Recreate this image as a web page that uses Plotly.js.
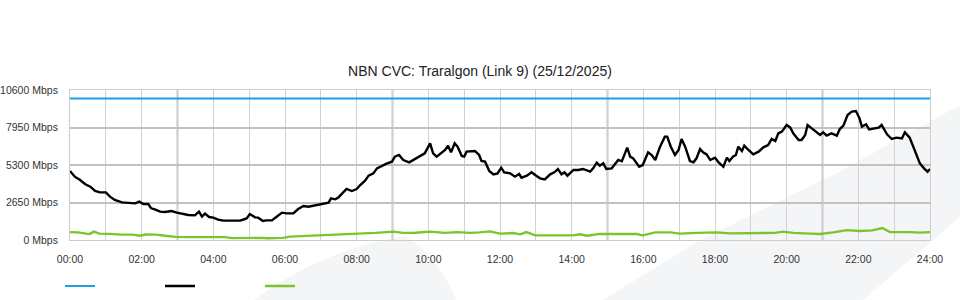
<!DOCTYPE html>
<html>
<head>
<meta charset="utf-8">
<script src="https://cdn.plot.ly/plotly-3.0.1.min.js"></script>
<style>html,body{margin:0;padding:0;background:#fff;}#chart{width:960px;height:300px;}</style>
</head>
<body>
<div id="chart"></div>
<script>
// ---- data (minutes since midnight, Mbps) ----
var chartTitle = "NBN CVC: Traralgon (Link 9) (25/12/2025)";
var hourLabels = ["00:00","02:00","04:00","06:00","08:00","10:00","12:00","14:00","16:00","18:00","20:00","22:00","24:00"];
var yTickValues = [0, 2650, 5300, 7950, 10600];
var yTickUnit = " Mbps";

var capacityMin = [0, 1440];
var capacityVal = [10000, 10000];

var downloadMin = [0,8,17,25,34,42,50,60,67,75,87,98,109,116,123,131,136,142,151,159,170,179,187,198,209,216,221,226,233,240,248,257,271,285,293,296,301,310,315,323,329,338,346,355,363,374,382,391,399,407,416,424,433,437,444,449,455,463,472,480,486,494,500,508,514,522,530,539,544,551,558,568,575,586,594,603,608,614,622,628,633,638,644,649,656,660,664,673,678,685,689,695,702,709,716,722,727,737,745,752,756,765,773,779,787,795,804,811,817,823,828,833,843,851,859,871,876,882,887,893,898,907,918,924,933,938,943,953,959,968,974,980,988,996,1000,1006,1013,1019,1024,1030,1038,1044,1049,1055,1060,1066,1072,1080,1086,1094,1100,1104,1110,1115,1119,1125,1129,1136,1144,1153,1161,1169,1175,1181,1186,1192,1200,1206,1211,1220,1225,1231,1235,1242,1250,1256,1261,1267,1275,1284,1289,1295,1302,1309,1316,1322,1326,1333,1338,1348,1354,1359,1368,1376,1384,1393,1398,1406,1411,1417,1423,1430,1436,1440];
var downloadVal = [4880,4475,4240,3957,3768,3463,3369,3369,3062,2827,2661,2614,2590,2708,2544,2544,2238,2167,2002,1979,2050,1932,1861,1767,1743,2002,1648,1861,1625,1578,1437,1366,1366,1366,1484,1531,1837,1601,1578,1343,1390,1390,1648,1932,1884,1884,2191,2403,2356,2426,2521,2567,2638,2944,2874,2991,3227,3604,3463,3604,3887,4193,4546,4711,5064,5253,5394,5535,5889,6007,5653,5488,5653,5889,6124,6831,6124,5889,6124,6360,6666,6195,6831,6595,5936,5889,6242,6242,6289,6007,5583,5535,4876,4640,4711,5111,4782,4711,4476,4664,4405,4546,4782,4593,4358,4287,4640,4782,5017,4640,4782,4546,4947,4947,5017,4829,5064,5465,5253,5418,5017,5064,5653,5559,6525,5889,5771,5182,5300,6195,6007,5653,6595,7303,7303,6595,6007,6360,7138,6595,5583,5488,5771,6431,6195,6054,5653,5818,5488,5182,5818,5583,5889,6007,6595,6289,6666,6360,6054,6242,6548,6713,7138,6996,7538,7656,8127,7950,7538,7067,7067,7420,8127,7891,7656,7420,7609,7373,7538,7373,7844,8080,8833,9068,9115,8598,8010,8175,7821,7891,7938,8127,7467,7138,7232,7185,7609,7232,6713,6007,5418,5064,4829,5017];

var uploadMin = [0,13,27,33,40,49,67,85,105,117,127,144,159,177,201,234,260,271,285,301,318,332,357,368,402,430,452,481,494,511,524,541,558,578,603,628,648,670,686,703,720,742,754,764,779,812,842,854,866,887,921,949,959,980,1005,1021,1050,1083,1105,1155,1180,1194,1211,1239,1256,1278,1301,1323,1343,1360,1373,1407,1423,1440];
var uploadVal = [560,540,450,430,590,450,430,380,380,300,390,380,300,220,200,200,200,130,140,190,150,120,150,240,290,330,380,420,430,500,540,590,500,510,590,500,560,500,540,610,450,490,400,560,330,330,330,400,300,430,430,420,330,540,540,450,500,540,470,470,500,590,500,450,420,540,700,640,680,850,560,560,520,560];

var accentHours = [3, 9, 15, 21];

// ---- build ----
var tickVals = [], tickText = [];
for (var h = 0; h <= 24; h++) {
  tickVals.push(h * 60);
  tickText.push(h % 2 === 0 ? hourLabels[h / 2] : "");
}
var yText = yTickValues.map(function (v) { return v + yTickUnit; });

var L = 70, R = 930, T = 90, B = 240;
function px(x) { return ((x - L) / (R - L)).toFixed(4); }
function py(y) { return ((B - y) / (B - T)).toFixed(4); }
function P(x, y) { return px(x) + "," + py(y); }

var shapes = [
  { type: "path", xref: "paper", yref: "paper", layer: "below",
    path: "M" + P(254, 300) + " Q" + P(320, 250) + " " + P(405, 236) + " Q" + P(440, 258) + " " + P(456, 300) + " Z",
    fillcolor: "#f4f5f7", line: { width: 0 } },
  { type: "path", xref: "paper", yref: "paper", layer: "below",
    path: "M" + P(603, 300) + " L" + P(700, 240) + " L" + P(837, 173) + " L" + P(960, 105) + " L" + P(960, 217) + " L" + P(863, 300) + " Z",
    fillcolor: "#f4f5f7", line: { width: 0 } }
];
accentHours.forEach(function (h) {
  shapes.push({ type: "line", xref: "x", yref: "paper", x0: h * 60, x1: h * 60, y0: 0, y1: 1,
    layer: "below", line: { color: "#c0c0c0", width: 2 } });
});

var traces = [
  { x: capacityMin, y: capacityVal, mode: "lines", name: "", line: { color: "#1aa1e3", width: 2 } },
  { x: downloadMin, y: downloadVal, mode: "lines", name: "", line: { color: "#000000", width: 2.4 } },
  { x: uploadMin, y: uploadVal, mode: "lines", name: "", line: { color: "#7cc42c", width: 2.4 } }
];

var font = "'Liberation Sans', Arial, sans-serif";
var layout = {
  width: 960, height: 300,
  margin: { l: L, r: 960 - R, t: T, b: 300 - B, pad: 0, autoexpand: false },
  paper_bgcolor: "#ffffff",
  plot_bgcolor: "rgba(0,0,0,0)",
  font: { family: font, size: 10.5, color: "#333333" },
  title: { text: chartTitle, x: 0.5, xref: "container", xanchor: "center",
    y: 1 - 71 / 300, yref: "container", yanchor: "middle",
    font: { family: font, size: 14, color: "#222222" } },
  xaxis: { range: [0, 1440], tickmode: "array", tickvals: tickVals, ticktext: tickText,
    showgrid: true, gridcolor: "#d2d2d2", gridwidth: 1, zeroline: false,
    showline: true, mirror: true, linecolor: "#cccccc", linewidth: 1,
    ticks: "", ticklabelstandoff: 9, fixedrange: true, automargin: false },
  yaxis: { range: [0, 10600], tickmode: "array", tickvals: yTickValues, ticktext: yText,
    showgrid: true, gridcolor: "#c2c2c2", gridwidth: 2, zeroline: false,
    showline: true, mirror: true, linecolor: "#cccccc", linewidth: 1,
    ticks: "", ticklabelstandoff: 9, fixedrange: true, automargin: false },
  showlegend: true,
  legend: { orientation: "h", x: 60 / 960, xref: "container", xanchor: "left",
    y: 1 - 286 / 300, yref: "container", yanchor: "middle",
    entrywidth: 55, entrywidthmode: "pixels", itemwidth: 30,
    bgcolor: "rgba(0,0,0,0)", font: { size: 10 } },
  shapes: shapes
};

Plotly.newPlot("chart", traces, layout, { displayModeBar: false, staticPlot: true });
</script>
</body>
</html>
